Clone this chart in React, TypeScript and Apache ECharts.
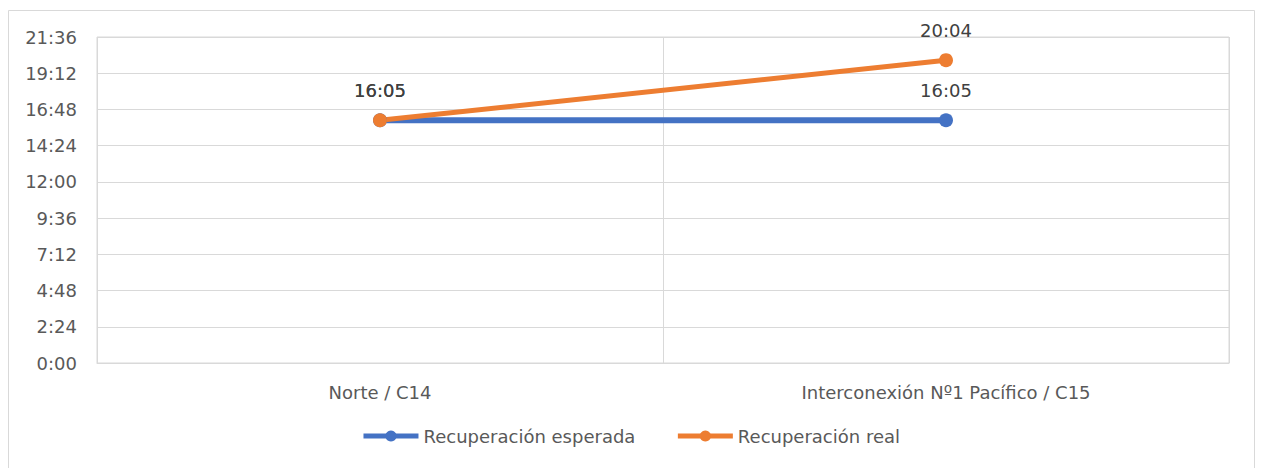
import React, { useEffect, useRef } from "react";
import * as echarts from "echarts";

const categories = ["Norte / C14", "Interconexión Nº1 Pacífico / C15"];
const expectedMinutes = [965, 965];
const realMinutes = [965, 1204];
const seriesNames = ["Recuperación esperada", "Recuperación real"];

const fmt = (m: number) => {
  const h = Math.floor(m / 60);
  const mm = Math.round(m - h * 60);
  return `${h}:${mm < 10 ? "0" + mm : mm}`;
};

const FONT = "DejaVu Sans";

export default function App() {
  const ref = useRef<HTMLDivElement>(null);
  useEffect(() => {
    if (!ref.current) return;
    const chart = echarts.init(ref.current, null, { renderer: "svg" });
    const label = {
      show: true,
      position: "top" as const,
      distance: 14,
      color: "#404040",
      fontFamily: FONT,
      fontSize: 18,
      formatter: (p: any) => fmt(p.value),
    };
    chart.setOption({
      animation: false,
      backgroundColor: "#ffffff",
      graphic: [
        {
          type: "rect",
          shape: { x: 8.5, y: 10.5, width: 1246, height: 470 },
          style: { fill: "none", stroke: "#d9d9d9", lineWidth: 1 },
          silent: true,
          z: -1,
        },
      ],
      grid: {
        left: 97,
        right: 32,
        top: 37,
        bottom: 105,
        show: true,
        borderColor: "#d9d9d9",
        borderWidth: 1,
        containLabel: false,
      },
      legend: {
        bottom: 18,
        left: "center",
        itemWidth: 55,
        itemHeight: 14,
        itemGap: 40,
        lineStyle: { width: 5 },
        textStyle: { color: "#595959", fontFamily: FONT, fontSize: 18 },
        data: seriesNames,
      },
      xAxis: {
        type: "category",
        data: categories,
        boundaryGap: true,
        axisLine: { show: true, lineStyle: { color: "#d9d9d9" } },
        axisTick: { show: false },
        splitLine: { show: true, lineStyle: { color: "#d9d9d9", width: 1 } },
        axisLabel: {
          color: "#595959",
          fontFamily: FONT,
          fontSize: 18,
          margin: 20,
        },
      },
      yAxis: {
        type: "value",
        min: 0,
        max: 1296,
        interval: 144,
        axisLine: { show: false },
        axisTick: { show: false },
        splitLine: { show: true, lineStyle: { color: "#d9d9d9", width: 1 } },
        axisLabel: {
          color: "#595959",
          fontFamily: FONT,
          fontSize: 18,
          margin: 20,
          formatter: (v: number) => fmt(v),
        },
      },
      series: [
        {
          name: seriesNames[0],
          type: "line",
          data: expectedMinutes,
          color: "#4472c4",
          lineStyle: { width: 6, color: "#4472c4" },
          symbol: "circle",
          symbolSize: 14,
          itemStyle: { color: "#4472c4" },
          label,
        },
        {
          name: seriesNames[1],
          type: "line",
          data: realMinutes,
          color: "#ed7d31",
          lineStyle: { width: 5, color: "#ed7d31" },
          symbol: "circle",
          symbolSize: 14,
          itemStyle: { color: "#ed7d31" },
          label,
        },
      ],
    });
    return () => chart.dispose();
  }, []);
  return (
    <div
      ref={ref}
      style={{ position: "absolute", left: 0, top: 0, width: 1261, height: 468 }}
    />
  );
}
